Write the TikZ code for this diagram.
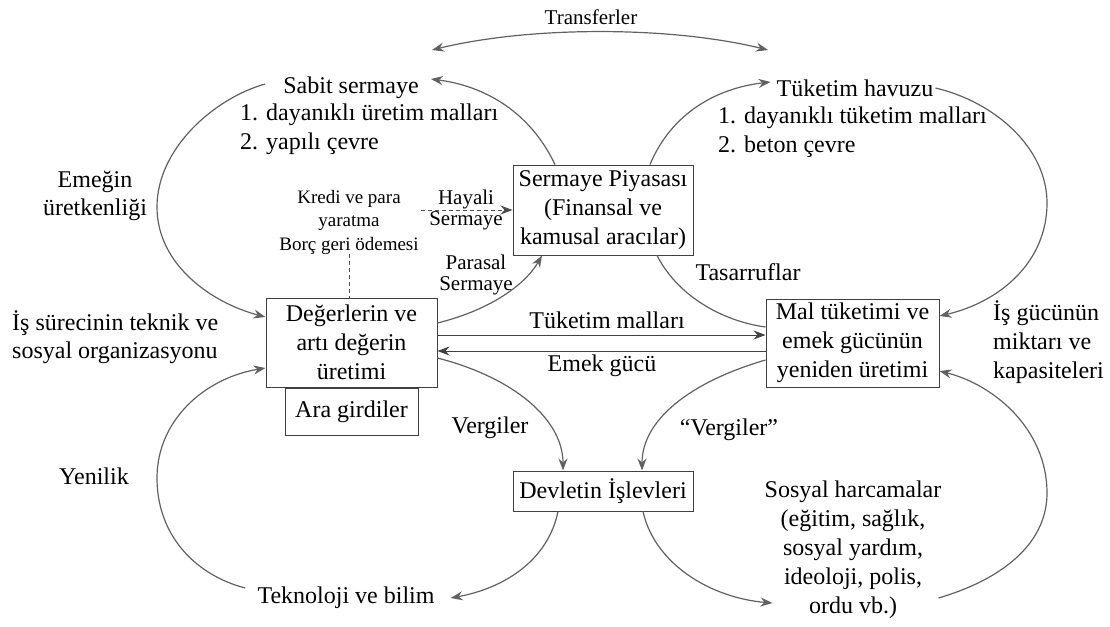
\documentclass[tikz,border=0pt]{standalone}
\usepackage{fontspec}
\setmainfont{Liberation Serif}
\usepackage{tikz}
\usetikzlibrary{arrows.meta,positioning}
\tikzstyle{txt}=[inner sep=0pt, align=center, font=\fontsize{24}{29}\selectfont]
\tikzstyle{lbl}=[inner sep=0pt, align=center, font=\fontsize{21}{21.5}\selectfont]
\tikzstyle{simple}=[rectangle, draw=black!75, line width=1pt, inner sep=0pt, align=center, font=\fontsize{24}{29}\selectfont]
\tikzstyle{flow}=[draw=black!62, line width=1.2pt]
\tikzstyle{dashline}=[draw=black!70, line width=0.9pt, dash pattern=on 4pt off 3pt]

\begin{document}
\begin{tikzpicture}[x=1pt,y=-1pt,>={Stealth[length=12pt,width=9pt,inset=4pt]}]
	\useasboundingbox (0,0) rectangle (1110,626);
	
	% kutular
	\node[simple,minimum width=171,minimum height=89](deger) at (351.5,342.5){Değerlerin ve\\artı değerin\\üretimi};
	\node[simple,minimum width=133,minimum height=47](ara)[below=0pt of deger]{Ara girdiler};
	\node[simple,minimum width=180,minimum height=90](piyasa) at (603,210){Sermaye Piyasası\\(Finansal ve\\kamusal aracılar)};
	\node[simple,minimum width=173,minimum height=88](mal) at (852.5,343){Mal tüketimi ve\\emek gücünün\\yeniden üretimi};
	\node[simple,minimum width=180,minimum height=40](devlet) at (603,491){Devletin İşlevleri};
	
	% metinler
	\node[lbl](transfer) at (591,17){Transferler};
	\node[txt](sabit) at (351,88){Sabit sermaye};
	\node[txt,anchor=west,align=left](sabitlist) at (240,129){1. dayanıklı üretim malları\\2. yapılı çevre};
	\node[txt](havuz) at (855,88){Tüketim havuzu};
	\node[txt,anchor=west,align=left](havuzlist) at (718,132){1. dayanıklı tüketim malları\\2. beton çevre};
	\node[txt,font=\fontsize{24}{28}\selectfont](emegin) at (95,196){Emeğin\\üretkenliği};
	\node[txt,font=\fontsize{19}{23.5}\selectfont](kredi) at (349,222){Kredi ve para\\yaratma\\Borç geri ödemesi};
	\node[lbl](hayali) at (466,210){Hayali\\Sermaye};
	\node[lbl,font=\fontsize{21}{20.5}\selectfont](parasal) at (476,275){Parasal\\Sermaye};
	\node[txt](tasarruf) at (748,272){Tasarruflar};
	\node[txt](tukmal) at (607,320){Tüketim malları};
	\node[txt](emek) at (602,366){Emek gücü};
	\node[txt,anchor=west,align=left,font=\fontsize{24}{28}\selectfont](surec) at (12,337){İş sürecinin teknik ve\\sosyal organizasyonu};
	\node[txt,anchor=west,align=left](isgucu) at (993,342){İş gücünün\\miktarı ve\\kapasiteleri};
	\node[txt](vergi) at (490,428){Vergiler};
	\node[txt](vergi2) at (729,430){“Vergiler”};
	\node[txt](yenilik) at (94,476){Yenilik};
	\node[txt](tekno) at (346,598){Teknoloji ve bilim};
	\node[txt](sosyal) at (853,550){Sosyal harcamalar\\(eğitim, sağlık,\\sosyal yardım,\\ideoloji, polis,\\ordu vb.)};
	
	% transferler
	\coordinate (trleft) at (432,50);
	\coordinate (trright) at (768,50);
	\draw[flow,<->](trleft) .. controls (530,26) and (670,26) .. (trright);
	
	% ust halkalar
	\draw[dashline](kredi.south) -- (kredi.south |- deger.north);
	\draw[dashline,->]([xshift=-45pt]hayali.center) -- (hayali.center -| piyasa.west);
	\draw[flow,->]([yshift=19.5pt]deger.east) .. controls (490,310) and (525,285) .. ([xshift=-61pt]piyasa.south);
	\draw[flow,->]([xshift=-48pt]piyasa.north) .. controls (530,112) and (485,86) .. ([xshift=12pt,yshift=9pt]sabit.east);
	\draw[flow,->]([xshift=47pt]piyasa.north) .. controls (672,112) and (718,88) .. ([xshift=-6pt,yshift=6pt]havuz.west);
	\draw[flow]([xshift=54pt]piyasa.south) .. controls (680,300) and (728,322) .. ([yshift=16pt]mal.west);
	\draw[flow,->]([xshift=-18pt,yshift=4pt]sabit.west) .. controls (215,98) and (157,148) .. (157,207) .. controls (157,265) and (212,303) .. ([yshift=25.5pt]deger.west);
	\draw[flow,->]([xshift=2pt]havuz.east) .. controls (995,102) and (1047,148) .. (1047,203) .. controls (1047,262) and (1000,302) .. ([yshift=27pt]mal.east);
	
	% orta oklar
	\draw[flow,draw=black!75,line width=1pt,->]([yshift=7.5pt]deger.east) -- ([yshift=7.5pt]deger.east -| mal.west);
	\draw[flow,draw=black!75,line width=1pt,->]([yshift=-8.5pt]deger.east -| mal.west) -- ([yshift=-8.5pt]deger.east);
	
	% alt halkalar
	\draw[flow,->]([yshift=-15.5pt]deger.east) .. controls (515,378) and (563,420) .. ([xshift=-40pt]devlet.north);
	\draw[flow,->]([yshift=-17pt]mal.west) .. controls (690,382) and (642,420) .. ([xshift=39pt]devlet.north);
	\draw[flow,->]([xshift=-45pt]devlet.south) .. controls (548,560) and (505,588) .. ([xshift=16pt]tekno.east);
	\draw[flow,->]([xshift=40pt]devlet.south) .. controls (655,565) and (712,598) .. ([xshift=8pt,yshift=-53pt]sosyal.west);
	\draw[flow,->]([xshift=-12pt,yshift=10pt]tekno.west) .. controls (195,575) and (157,535) .. (157,478) .. controls (157,420) and (205,378) .. ([yshift=-25.5pt]deger.west);
	\draw[flow,->]([xshift=-3pt,yshift=-48pt]sosyal.east) .. controls (1000,580) and (1047,545) .. (1047,493) .. controls (1047,430) and (995,385) .. ([yshift=-28pt]mal.east);
\end{tikzpicture}
\end{document}
